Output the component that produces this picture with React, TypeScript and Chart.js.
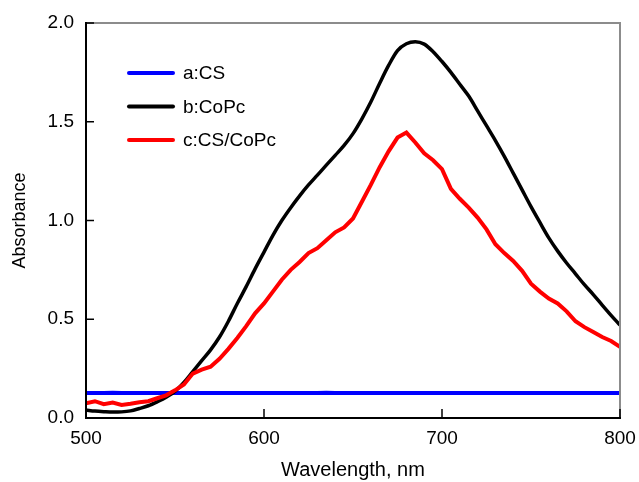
import React, { useEffect, useRef } from "react";
import { Chart, registerables } from "chart.js";

Chart.register(...registerables);

const wavelengths: number[] = [
  500, 505, 510, 515, 520, 525, 530, 535, 540, 545,
  550, 555, 560, 565, 570, 575, 580, 585, 590, 595,
  600, 605, 610, 615, 620, 625, 630, 635, 640, 645,
  650, 655, 660, 665, 670, 675, 680, 685, 690, 695,
  700, 705, 710, 715, 720, 725, 730, 735, 740, 745,
  750, 755, 760, 765, 770, 775, 780, 785, 790, 795, 800,
];

const seriesCS: number[] = [
  0.127, 0.126, 0.127, 0.128, 0.127, 0.126, 0.126, 0.127, 0.127, 0.126,
  0.126, 0.127, 0.127, 0.126, 0.126, 0.127, 0.127, 0.126, 0.126, 0.127,
  0.126, 0.126, 0.127, 0.127, 0.126, 0.126, 0.127, 0.128, 0.127, 0.126,
  0.126, 0.127, 0.127, 0.126, 0.126, 0.127, 0.127, 0.126, 0.126, 0.127,
  0.127, 0.126, 0.126, 0.127, 0.127, 0.126, 0.126, 0.127, 0.127, 0.126,
  0.126, 0.127, 0.127, 0.126, 0.126, 0.127, 0.127, 0.126, 0.127, 0.127, 0.127,
];

const seriesCoPc: number[] = [
  0.040, 0.035, 0.032, 0.030, 0.031, 0.036, 0.048, 0.062, 0.082, 0.105,
  0.135, 0.180, 0.235, 0.290, 0.345, 0.410, 0.490, 0.580, 0.665, 0.755,
  0.840, 0.925, 1.000, 1.065, 1.125, 1.180, 1.230, 1.280, 1.330, 1.380,
  1.440, 1.515, 1.600, 1.695, 1.785, 1.860, 1.895, 1.905, 1.893, 1.855,
  1.805, 1.750, 1.690, 1.630, 1.555, 1.480, 1.405, 1.325, 1.240, 1.155,
  1.070, 0.990, 0.912, 0.845, 0.785, 0.730, 0.675, 0.625, 0.572, 0.520, 0.470,
];

const seriesCSCoPc: number[] = [
  0.075, 0.085, 0.070, 0.078, 0.066, 0.072, 0.080, 0.085, 0.100, 0.115,
  0.140, 0.170, 0.225, 0.245, 0.260, 0.300, 0.350, 0.405, 0.465, 0.530,
  0.580, 0.640, 0.700, 0.750, 0.790, 0.835, 0.860, 0.900, 0.940, 0.965,
  1.010, 1.095, 1.180, 1.270, 1.350, 1.420, 1.445, 1.395, 1.340, 1.305,
  1.260, 1.160, 1.110, 1.065, 1.015, 0.955, 0.880, 0.835, 0.795, 0.745,
  0.680, 0.640, 0.605, 0.580, 0.540, 0.490, 0.460, 0.435, 0.410, 0.390, 0.360,
];

const seriesLabels: string[] = ["a:CS", "b:CoPc", "c:CS/CoPc"];
const seriesColors: string[] = ["#0000ff", "#000000", "#ff0000"];
const xTicks: number[] = [500, 600, 700, 800];
const yTicks: number[] = [0, 0.5, 1.0, 1.5, 2.0];

const FONT = "'Liberation Sans', Arial, Helvetica, sans-serif";

const framePlugin = {
  id: "frameAndLegend",
  afterDraw(chart: any) {
    const { ctx, chartArea } = chart;
    const { left, right, top, bottom } = chartArea;
    const xs = chart.scales.x;
    const ys = chart.scales.y;
    ctx.save();
    ctx.strokeStyle = "#8c8c8c";
    ctx.lineWidth = 2;
    ctx.beginPath();
    ctx.moveTo(left, top);
    ctx.lineTo(right, top);
    ctx.lineTo(right, bottom);
    ctx.stroke();
    ctx.strokeStyle = "#000000";
    ctx.beginPath();
    ctx.moveTo(left, top - 1);
    ctx.lineTo(left, bottom);
    ctx.lineTo(right + 1, bottom);
    ctx.stroke();
    ctx.lineWidth = 1.5;
    yTicks.forEach((v) => {
      const y = ys.getPixelForValue(v);
      ctx.beginPath();
      ctx.moveTo(left, y);
      ctx.lineTo(left + 8, y);
      ctx.stroke();
    });
    xTicks.forEach((v) => {
      const x = xs.getPixelForValue(v);
      ctx.beginPath();
      ctx.moveTo(x, bottom);
      ctx.lineTo(x, bottom - 9);
      ctx.stroke();
    });
    const lx0 = left + 43;
    const lx1 = left + 87;
    const ly0 = top + 50;
    const gap = 33.5;
    ctx.lineCap = "round";
    ctx.font = `19px ${FONT}`;
    ctx.textBaseline = "middle";
    ctx.textAlign = "left";
    seriesLabels.forEach((lab, i) => {
      const y = ly0 + i * gap;
      ctx.strokeStyle = seriesColors[i];
      ctx.lineWidth = 4;
      ctx.beginPath();
      ctx.moveTo(lx0, y);
      ctx.lineTo(lx1, y);
      ctx.stroke();
      ctx.fillStyle = "#000000";
      ctx.fillText(lab, lx1 + 10, y + 1);
    });
    ctx.restore();
  },
};

export default function App() {
  const canvasRef = useRef<HTMLCanvasElement | null>(null);

  useEffect(() => {
    const canvas = canvasRef.current;
    if (!canvas) return;
    const seriesValues = [seriesCS, seriesCoPc, seriesCSCoPc];
    const orders = [3, 2, 1];
    const chart = new Chart(canvas, {
      type: "line",
      data: {
        datasets: seriesValues.map((vals, i) => ({
          label: seriesLabels[i],
          data: wavelengths.map((w, j) => ({ x: w, y: vals[j] })),
          borderColor: seriesColors[i],
          backgroundColor: seriesColors[i],
          borderWidth: i === 1 ? 3.5 : 4,
          pointRadius: 0,
          tension: i === 1 ? 0.4 : 0,
          cubicInterpolationMode: i === 1 ? "monotone" : "default",
          fill: false,
          order: orders[i],
        })),
      },
      options: {
        responsive: false,
        animation: false,
        layout: { padding: { left: 0, top: 23, right: 19, bottom: 0 } },
        plugins: {
          legend: { display: false },
          tooltip: { enabled: false },
        },
        scales: {
          x: {
            type: "linear",
            min: 500,
            max: 800,
            afterFit: (s: any) => {
              s.height = 64;
              s.paddingLeft = 0;
              s.paddingRight = 0;
            },
            afterBuildTicks: (s: any) => {
              s.ticks = xTicks.map((v) => ({ value: v }));
            },
            grid: { display: false, drawTicks: false },
            border: { display: false },
            ticks: {
              padding: 9,
              color: "#000000",
              font: { family: FONT, size: 19 },
              maxRotation: 0,
              callback: (v: any) => String(v),
            },
            title: {
              display: true,
              text: "Wavelength, nm",
              color: "#000000",
              font: { family: FONT, size: 20 },
              padding: { top: 0, bottom: 0 },
            },
          },
          y: {
            type: "linear",
            min: 0,
            max: 2,
            afterFit: (s: any) => {
              s.width = 86;
              s.paddingTop = 0;
              s.paddingBottom = 0;
            },
            afterBuildTicks: (s: any) => {
              s.ticks = yTicks.map((v) => ({ value: v }));
            },
            grid: { display: false, drawTicks: false },
            border: { display: false },
            ticks: {
              padding: 12,
              color: "#000000",
              font: { family: FONT, size: 19 },
              callback: (v: any) => Number(v).toFixed(1),
            },
            title: {
              display: true,
              text: "Absorbance",
              color: "#000000",
              font: { family: FONT, size: 18 },
              padding: { top: 9, bottom: 0 },
            },
          },
        },
      },
      plugins: [framePlugin],
    });
    return () => chart.destroy();
  }, []);

  return (
    <div style={{ position: "absolute", left: 0, top: 0, width: 639, height: 482, background: "#ffffff" }}>
      <canvas ref={canvasRef} width={639} height={482} style={{ display: "block" }} />
    </div>
  );
}
